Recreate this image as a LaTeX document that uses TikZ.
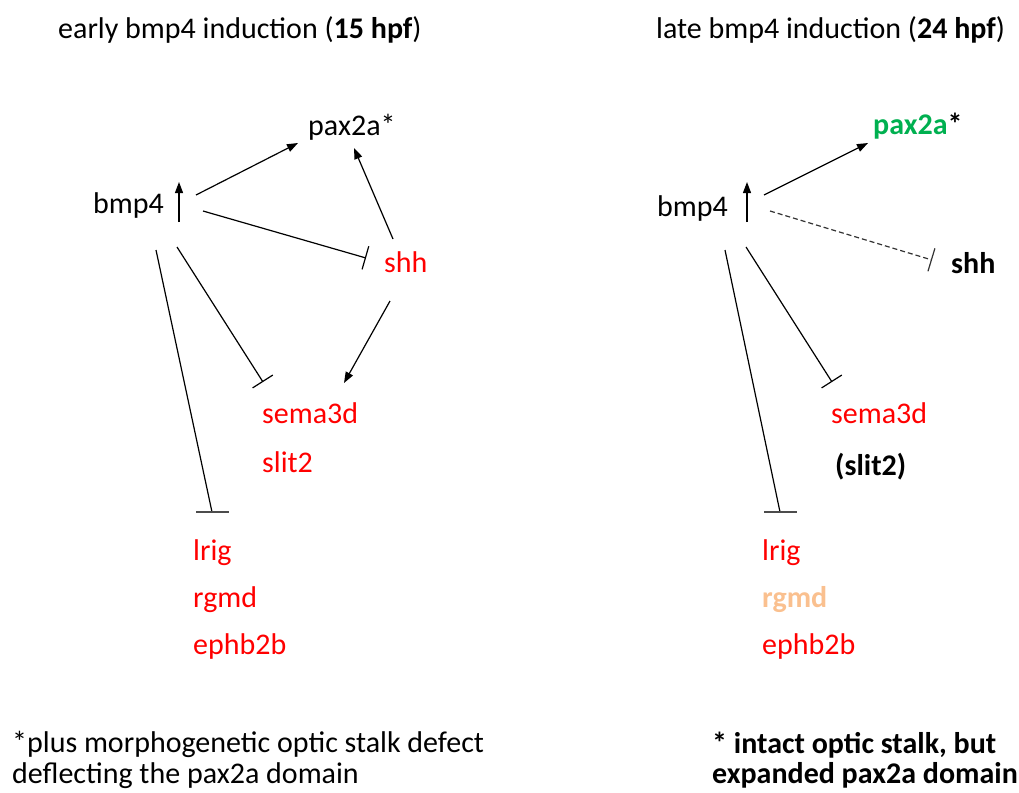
\documentclass[tikz,border=0pt]{standalone}
\usepackage{fontspec}
\setmainfont{Carlito}
\usetikzlibrary{arrows.meta}
\definecolor{gred}{RGB}{255,0,0}
\definecolor{ggreen}{RGB}{0,176,80}
\definecolor{peach}{RGB}{250,192,143}
\begin{document}
\begin{tikzpicture}[x=1pt,y=-1pt,
  font=\fontsize{30}{31}\selectfont,
  lbl/.style={anchor=base west, inner sep=0pt},
  gene/.style={lbl, text=gred},
  act/.style={-{Triangle[length=11pt,width=8pt]}, line width=1.2pt},
  inh/.style={-{Bar[width=24pt,line width=1.2pt]}, line width=1.2pt},
  plain/.style={line width=1.2pt},
  bar/.style={line width=1.2pt, draw=black!70}]
\useasboundingbox (0,0) rectangle (1019,792);
% ---------- left panel ----------
\node[lbl] (Ltitle) at (58,38) {early bmp4 induction (\textbf{15 hpf})};
\node[lbl] (Lpax) at (308,135) {pax2a*};
\node[lbl] (Lbmp) at (93,213) {bmp4};
\node[gene] (Lshh) at (384,272) {shh};
\node[gene] (Lsema) at (262,423) {sema3d};
\node[gene] (Lslit) at (262,472) {slit2};
\node[gene] (Llrig) at (193,560) {lrig};
\node[gene] (Lrgmd) at (193,607) {rgmd};
\node[gene] (Leph) at (193,654) {ephb2b};
\node[lbl] (Lnote1) at (12,752) {*plus morphogenetic optic stalk defect};
\node[lbl] (Lnote2) at (12,783) {deflecting the pax2a domain};

\coordinate (Lup0) at (179,222);
\coordinate (Lup1) at (179,182);
\coordinate (Lb1) at (196,195);
\coordinate (Lp1) at (298,143);
\coordinate (Lb2) at (203,211);
\coordinate (Ls1) at (366,258);
\coordinate (Ls2) at (393,239);
\coordinate (Lp2) at (354,148);
\coordinate (Ls3) at (390,301);
\coordinate (Lse1) at (344,383);
\coordinate (Lb3) at (177,247);
\coordinate (Lse2) at (263,382);
\coordinate (Lb4) at (156,250);
\coordinate (Ll1) at (212,512);

\draw[act] (Lup0) -- (Lup1);
\draw[act] (Lb1) -- (Lp1);
\draw[inh] (Lb2) -- (Ls1);
\draw[act] (Ls2) -- (Lp2);
\draw[act] (Ls3) -- (Lse1);
\draw[inh] (Lb3) -- (Lse2);
\draw[plain] (Lb4) -- (Ll1);
\draw[bar] ([xshift=-16pt]Ll1) -- ([xshift=17pt]Ll1);

% ---------- right panel ----------
\node[lbl] (Rtitle) at (656,38) {late bmp4 induction (\textbf{24 hpf})};
\node[lbl] (Rpax) at (873,134) {\textbf{\textcolor{ggreen}{pax2a}*}};
\node[lbl] (Rbmp) at (657,216) {bmp4};
\node[lbl] (Rshh) at (951,273) {\textbf{shh}};
\node[gene] (Rsema) at (831,423) {sema3d};
\node[lbl] (Rslit) at (835,475) {\textbf{(slit2)}};
\node[gene] (Rlrig) at (762,560) {lrig};
\node[lbl, text=peach] (Rrgmd) at (762,607) {\textbf{rgmd}};
\node[gene] (Reph) at (762,654) {ephb2b};
\node[lbl] (Rnote1) at (712,753) {\textbf{* intact optic stalk, but}};
\node[lbl] (Rnote2) at (712,783) {\textbf{expanded pax2a domain}};

\coordinate (Rup0) at (747,222);
\coordinate (Rup1) at (747,182);
\coordinate (Rb1) at (764,195);
\coordinate (Rp1) at (868,143);
\coordinate (Rb2) at (770,211);
\coordinate (Rs1) at (932,260);
\coordinate (Rb3) at (746,247);
\coordinate (Rse2) at (832,382);
\coordinate (Rb4) at (725,250);
\coordinate (Rl1) at (780,512);

\draw[act] (Rup0) -- (Rup1);
\draw[act] (Rb1) -- (Rp1);
\draw[inh, dash pattern=on 5pt off 3pt, draw=black!80] (Rb2) -- (Rs1);
\draw[inh] (Rb3) -- (Rse2);
\draw[plain] (Rb4) -- (Rl1);
\draw[bar] ([xshift=-16pt]Rl1) -- ([xshift=17pt]Rl1);
\end{tikzpicture}
\end{document}
